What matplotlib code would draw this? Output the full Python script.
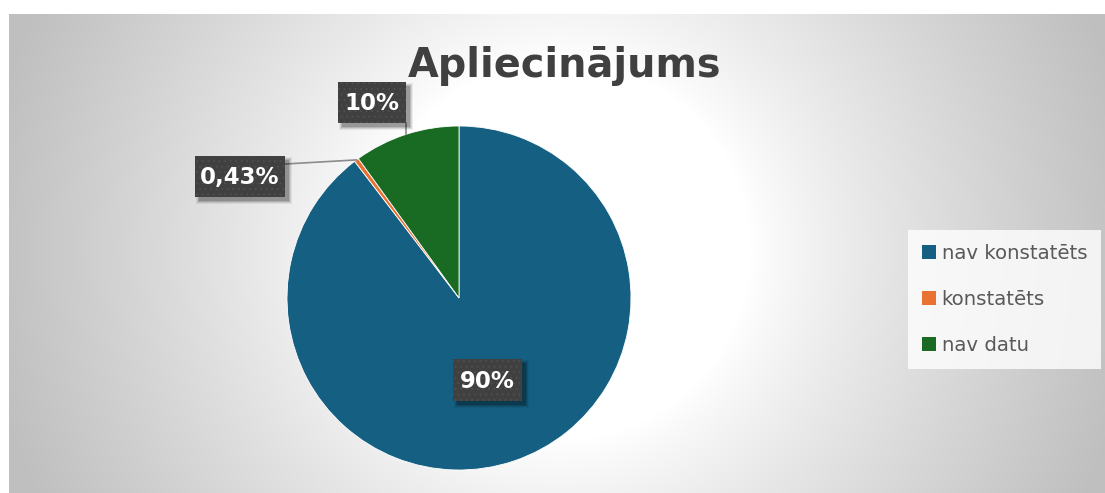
import matplotlib
matplotlib.use("Agg")
import matplotlib.pyplot as plt
import matplotlib.patches as mpatches
import numpy as np

# ── Data ──────────────────────────────────────────────────────────────────────
TITLE = "Apliecinājums"
CATEGORIES = ["nav konstatēts", "konstatēts", "nav datu"]
SHARES = [89.62, 0.43, 9.95]          # percent
LABELS = ["90%", "0,43%", "10%"]
COLORS = ["#156082", "#E97132", "#196B24"]

# ── Layout (pixels, y measured from the top) ─────────────────────────────────
W, H = 1105, 493
CX, CY, R = 459, 298, 172            # pie centre / radius
LABEL_POS = [(487.5, 380), (240, 176.5), (372, 102.5)]
LABEL_BOX = [(69, 42), (90, 41), (68, 41)]

plt.rcParams["font.family"] = "DejaVu Sans"
plt.rcParams["hatch.linewidth"] = 0.6

fig = plt.figure(figsize=(W / 100, H / 100), dpi=100)
fig.patch.set_facecolor("white")

# chart area with a radial grey gradient
bx0, by0 = 9, 14
bw, bh = W - bx0, H - by0
bg = fig.add_axes([bx0 / W, 0, bw / W, bh / H])
yy, xx = np.mgrid[0:bh, 0:bw]
r = np.hypot(xx - (560 - bx0), yy - (250 - by0))
v = np.clip((r - 190) / 390, 0, 1)
shade = 1.0 - 0.25 * v ** 0.85
bg.imshow(np.dstack([shade] * 3), extent=(0, bw, bh, 0), aspect="auto",
          interpolation="bilinear")
bg.axis("off")

# pie
ax = fig.add_axes([(CX - R) / W, (H - CY - R) / H, 2 * R / W, 2 * R / H])
wedges, _ = ax.pie(SHARES, colors=COLORS, startangle=90, counterclock=False,
                   radius=1, wedgeprops=dict(edgecolor="white", linewidth=0.6))
ax.set_xlim(-1, 1)
ax.set_ylim(-1, 1)
ax.axis("off")

# overlay in pixel coordinates for labels and leader lines
ov = fig.add_axes([0, 0, 1, 1])
ov.set_xlim(0, W)
ov.set_ylim(H, 0)
ov.axis("off")


def mid_point(w):
    t = np.deg2rad((w.theta1 + w.theta2) / 2)
    return CX + R * np.cos(t), CY - R * np.sin(t)


# leader lines
gx, gy = mid_point(wedges[2])
ov.plot([gx, gx], [gy, LABEL_POS[2][1] + LABEL_BOX[2][1] / 2],
        color="#8c8c8c", lw=1.2, zorder=3)
ox, oy = mid_point(wedges[1])
ov.plot([ox, LABEL_POS[1][0] + LABEL_BOX[1][0] / 2], [oy, 164],
        color="#8c8c8c", lw=1.2, zorder=3)


def data_label(pos, size, txt):
    x, y = pos
    w, h = size
    # soft shadow to the lower right
    for d, a in [(5, 0.06), (4, 0.09), (3, 0.13), (2, 0.16)]:
        ov.add_patch(mpatches.Rectangle((x - w / 2 + 4 - d + 2, y - h / 2 + 4 - d + 2),
                                        w + 2 * (d - 2), h + 2 * (d - 2),
                                        fc="black", ec="none", alpha=a, zorder=4))
    ov.add_patch(mpatches.Rectangle((x - w / 2, y - h / 2), w, h, fc="#404040",
                                    ec="#505050", lw=0, hatch="...", zorder=5))
    ov.text(x, y + 1, txt, ha="center", va="center", fontsize=16.5,
            fontweight="bold", color="white", zorder=6)


for pos, size, txt in zip(LABEL_POS, LABEL_BOX, LABELS):
    data_label(pos, size, txt)

# title
fig.text(565 / W, 1 - 77 / H, TITLE, ha="center", va="baseline",
         fontsize=28.6, fontweight="bold", color="#404040")

# legend
handles = [mpatches.Patch(facecolor=c, edgecolor="none") for c in COLORS]
leg = fig.legend(handles, CATEGORIES, loc="upper left",
                 bbox_to_anchor=(908 / W, 1 - 230 / H), fontsize=14.2,
                 frameon=True, fancybox=False, borderpad=0.7,
                 borderaxespad=0, labelspacing=1.38, handlelength=0.7,
                 handleheight=0.7, handletextpad=0.3)
leg.get_frame().set_facecolor((1, 1, 1, 0.3))
leg.get_frame().set_edgecolor("none")
for t in leg.get_texts():
    t.set_color("#595959")

fig.savefig("out.png", dpi=100)
